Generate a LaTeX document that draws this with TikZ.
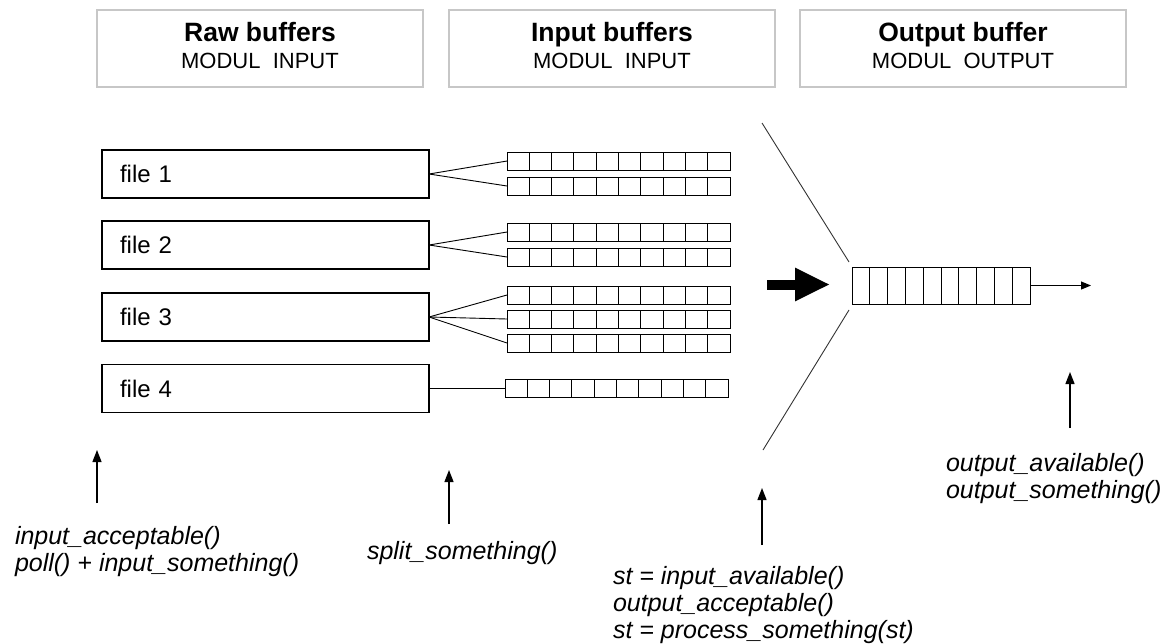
\documentclass[tikz,border=0pt]{standalone}
\usepackage{fontspec}
\setmainfont{Liberation Sans}
\usetikzlibrary{arrows.meta,calc}
\begin{document}
\begin{tikzpicture}[x=1pt,y=-1pt,
  every node/.style={inner sep=0pt, outer sep=0pt},
  head/.style={draw=black!22, line width=1.2pt, minimum width=326pt, minimum height=77pt,
    align=center, text depth=6pt, font=\fontsize{22}{27}\selectfont},
  filebox/.style={draw, line width=1.2pt, minimum width=327pt, minimum height=48pt,
    text width=291pt, inner xsep=18pt, align=left, font=\fontsize{24}{28}\selectfont},
  queue/.style={draw, line width=0.9pt, minimum width=223pt, minimum height=18pt, anchor=west,
    path picture={\foreach \k in {1,...,9}{
      \draw[line width=0.9pt]
        ($(path picture bounding box.north west)!\k/10!(path picture bounding box.north east)$) --
        ($(path picture bounding box.south west)!\k/10!(path picture bounding box.south east)$);}}},
  outq/.style={queue, minimum width=178pt, minimum height=37pt},
  link/.style={line width=0.9pt},
  funnel/.style={line width=0.9pt, draw=black!80},
  up/.style={line width=1.3pt, -{Triangle[length=12pt,width=9pt]}},
  call/.style={anchor=north west, align=left, font=\fontsize{25}{27}\selectfont\itshape}]
\useasboundingbox (0,0) rectangle (1170,643);

% module headers
\node[head] (hraw) at (260,48.5) {{\fontsize{26.5}{27}\selectfont\bfseries Raw buffers}\\MODUL\ \ INPUT};
\node[head] (hin)  at (612,48.5) {{\fontsize{26.5}{27}\selectfont\bfseries Input buffers}\\MODUL\ \ INPUT};
\node[head] (hout) at (963,48.5) {{\fontsize{26.5}{27}\selectfont\bfseries Output buffer}\\MODUL\ \ OUTPUT};

% raw file buffers
\node[filebox] (f1) at (265.5,174) {file 1};
\node[filebox] (f2) at (265.5,245) {file 2};
\node[filebox] (f3) at (265.5,317) {file 3};
\node[filebox] (f4) at (265.5,388.5) {file 4};

% input queues
\node[queue] (q11) at (507,161) {};
\node[queue] (q12) at (507,186) {};
\node[queue] (q21) at (507,232) {};
\node[queue] (q22) at (507,257) {};
\node[queue] (q31) at (507,295) {};
\node[queue] (q32) at (507,319) {};
\node[queue] (q33) at (507,343) {};
\node[queue] (q41) at (505,388.5) {};

\draw[link] (f1.east) -- (q11.west);
\draw[link] (f1.east) -- (q12.west);
\draw[link] (f2.east) -- (q21.west);
\draw[link] (f2.east) -- (q22.west);
\draw[link] (f3.east) -- (q31.west);
\draw[link] (f3.east) -- (q32.west);
\draw[link] (f3.east) -- (q33.west);
\draw[link] (f4.east) -- (q41.west);

% output queue with funnel
\node[outq] (oq) at (852,285.5) {};
\coordinate (ftop) at (762,123);
\coordinate (ftopend) at (849,262);
\coordinate (fbot) at (849,310);
\coordinate (fbotend) at (763,450);
\draw[funnel] (ftop) -- (ftopend);
\draw[funnel] (fbot) -- (fbotend);

\coordinate (bigs) at (767,284.5);
\coordinate (bige) at (830,284.5);
\draw[line width=10pt, -{Triangle[length=35pt,width=31pt]}] (bigs) -- (bige);

\coordinate (outend) at (1091,285.5);
\draw[line width=1pt, -{Triangle[length=10pt,width=8pt]}] (oq.east) -- (outend);

% call annotations
\coordinate (a1s) at (97,503);  \coordinate (a1e) at (97,450);
\coordinate (a2s) at (449,524); \coordinate (a2e) at (449,470);
\coordinate (a3s) at (762,545); \coordinate (a3e) at (762,488);
\coordinate (a4s) at (1070,428); \coordinate (a4e) at (1070,372);
\draw[up] (a1s) -- (a1e);
\draw[up] (a2s) -- (a2e);
\draw[up] (a3s) -- (a3e);
\draw[up] (a4s) -- (a4e);

\node[call] (c1) at (15,526) {input\_acceptable()\\poll() + input\_something()};
\node[call] (c2) at (367,541) {split\_something()};
\node[call] (c3) at (613,566) {st = input\_available()\\output\_acceptable()\\st = process\_something(st)};
\node[call] (c4) at (946,453) {output\_available()\\output\_something()};
\end{tikzpicture}
\end{document}
